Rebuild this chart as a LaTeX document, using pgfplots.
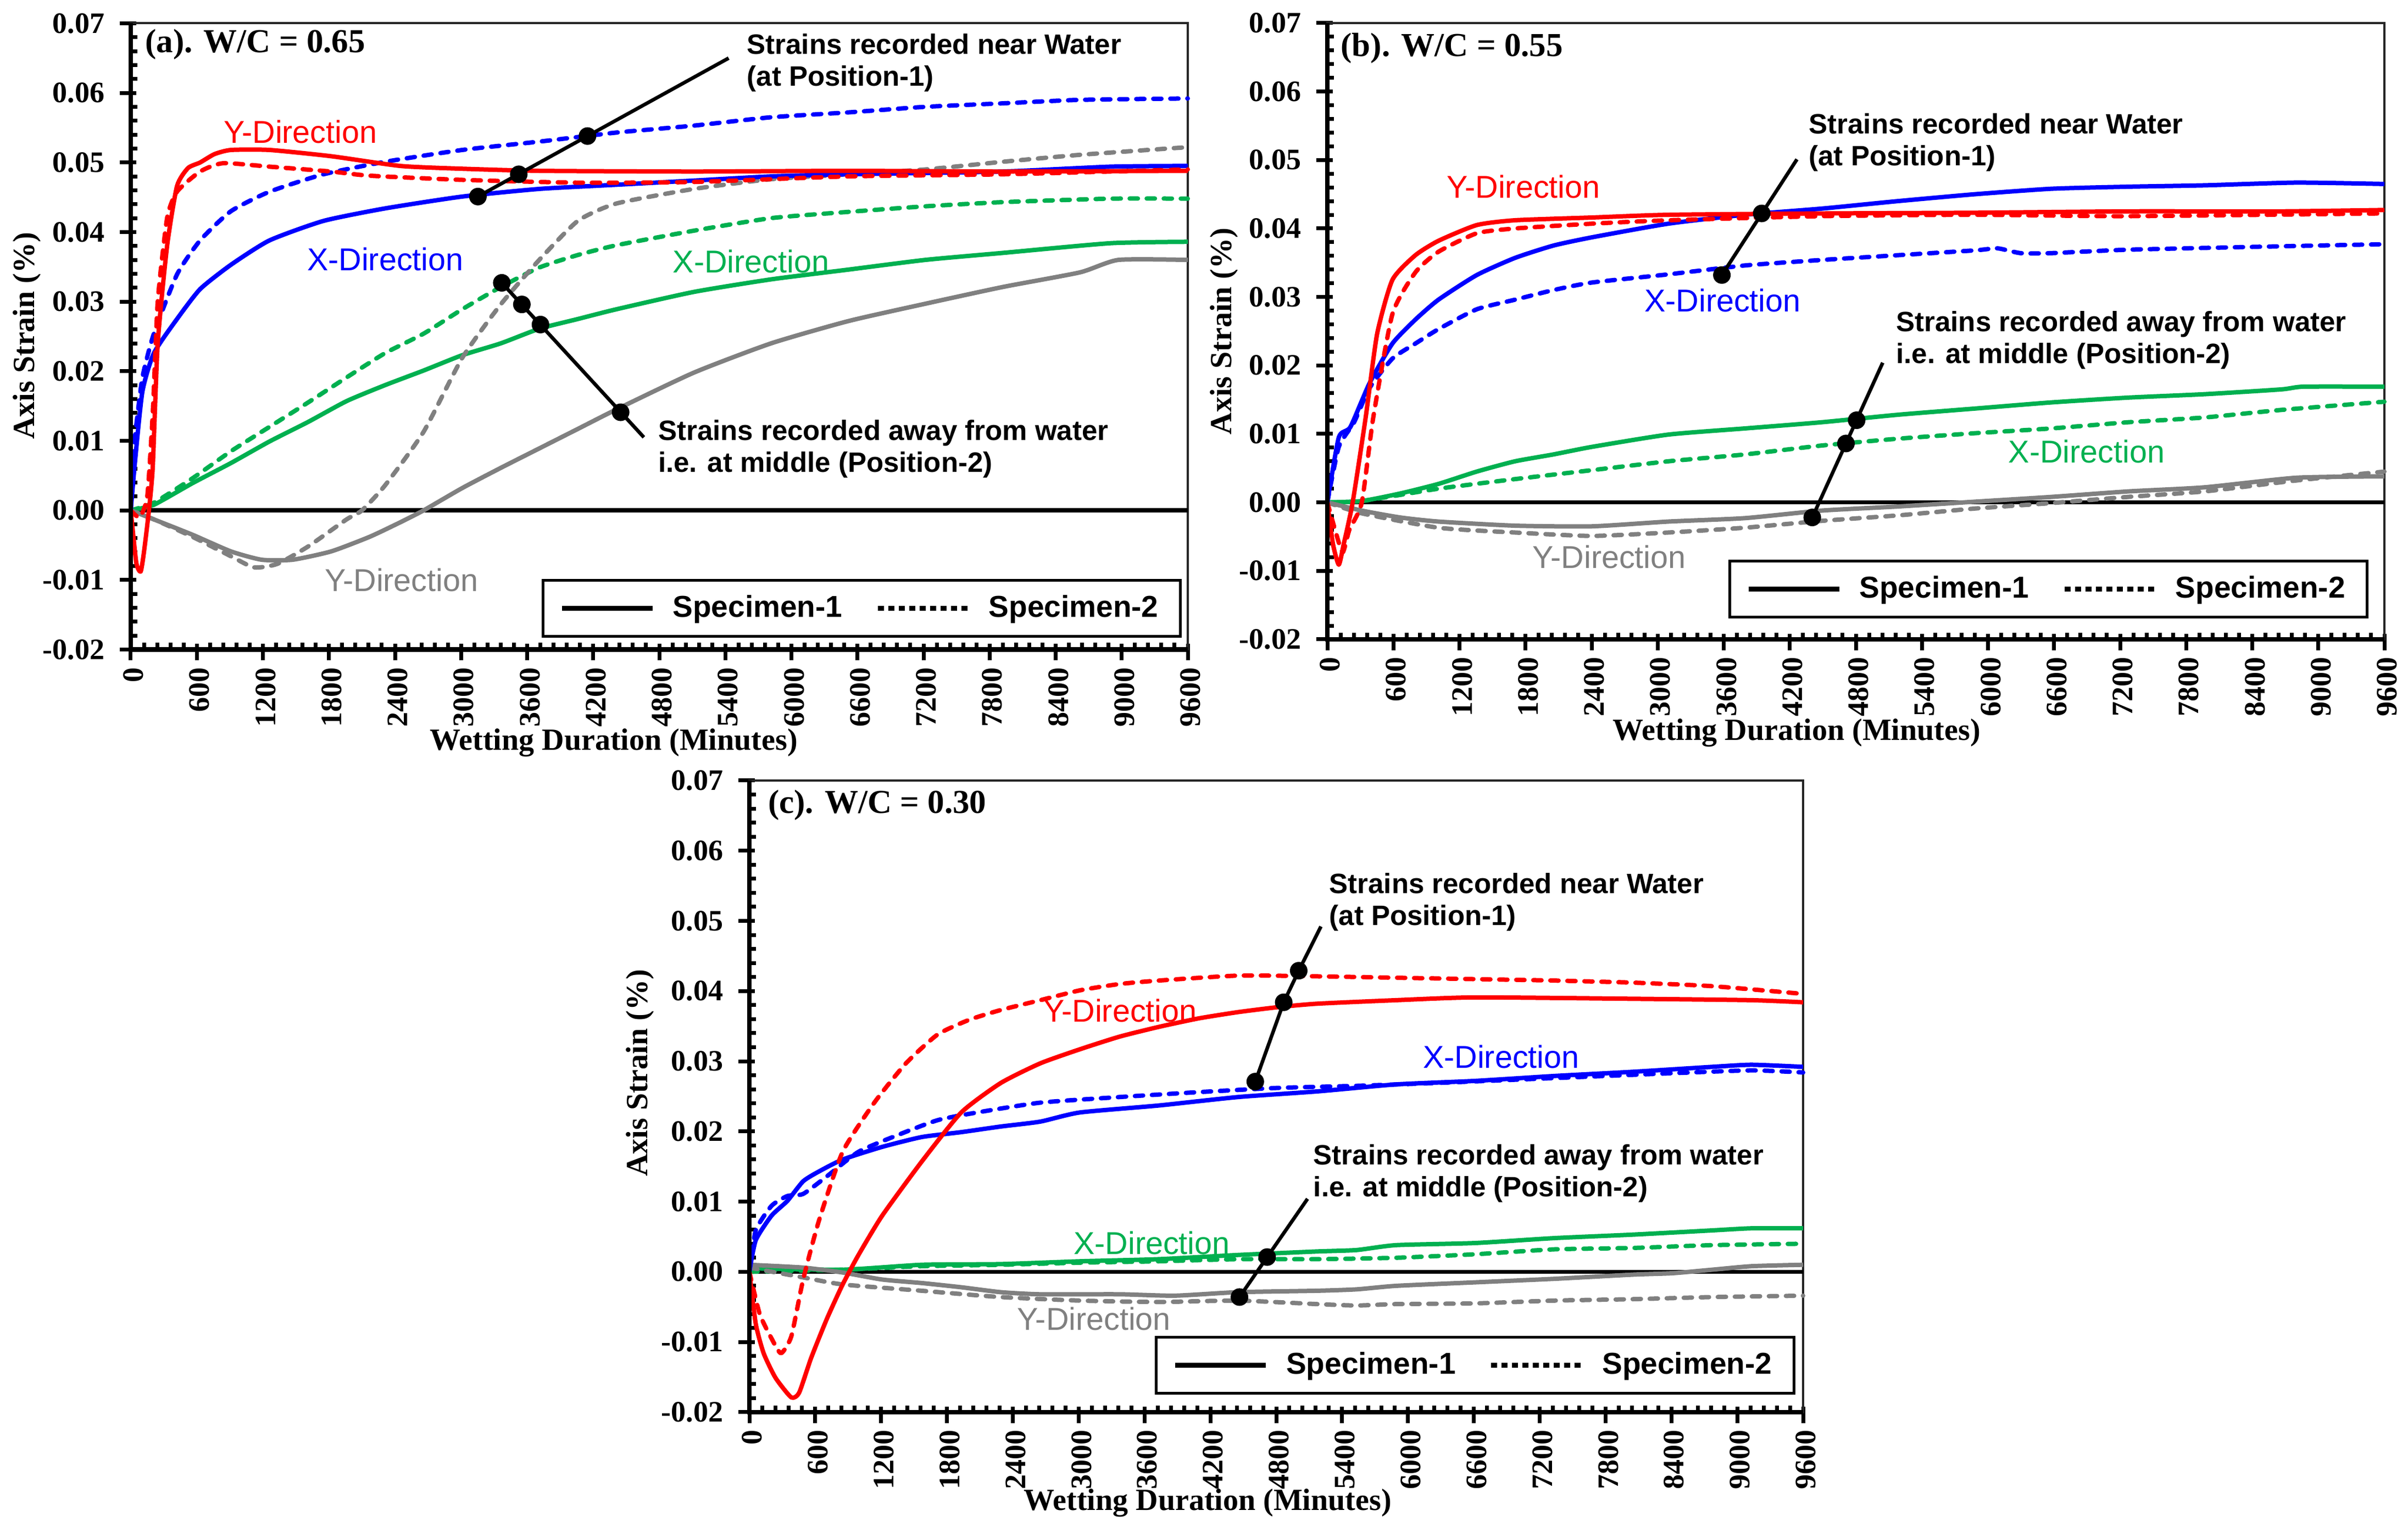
\documentclass[border=0pt]{standalone}
\usepackage{fontspec}
\setmainfont{Liberation Serif}
\newfontfamily\arial{Liberation Sans}
\usepackage{pgfplots}
\pgfplotsset{compat=1.18}
\definecolor{xgreen}{RGB}{0,176,80}
\definecolor{xgrey}{RGB}{128,128,128}
\definecolor{xred}{RGB}{255,0,0}
\definecolor{xblue}{RGB}{0,0,255}
\newcommand\tickfont{\fontsize{10.8}{12}\selectfont\bfseries}
\newcommand\labfont{\fontsize{11.2}{13}\selectfont\bfseries}
\newcommand\panfont{\fontsize{12.2}{14}\selectfont\bfseries}
\newcommand\annfont{\arial\bfseries\fontsize{10.2}{11.6}\selectfont}
\newcommand\dirfont{\arial\fontsize{11.5}{13}\selectfont}
\newcommand\legfont{\arial\bfseries\fontsize{11}{13}\selectfont}
\pgfplotsset{
  panel/.style={
    scale only axis, xmin=0, xmax=9600, ymin=-0.02, ymax=0.07,
    clip=false, scaled x ticks=false, scaled y ticks=false,
    axis line style={draw=black!85, line width=0.8pt},
    xtick={0,600,...,9600},
    ytick={-0.02,-0.01,0,0.01,0.02,0.03,0.04,0.05,0.06,0.07},
    yticklabels={-0.02,-0.01,0.00,0.01,0.02,0.03,0.04,0.05,0.06,0.07},
    xtick pos=bottom, ytick pos=left, tick align=center,
    major tick length=6pt, minor tick length=2.4pt,
    minor x tick num=4, minor y tick num=4,
    tick style={black, line width=1.4pt},
    major x tick style={yshift=-1pt},
    major y tick style={xshift=-1pt},
    minor x tick style={yshift=1.2pt},
    minor y tick style={xshift=1.2pt},
    xticklabel style={rotate=90, anchor=east, font=\tickfont, yshift=-1pt},
    yticklabel style={font=\tickfont, xshift=-3pt},
    legend columns=2,
    legend style={draw=black, line width=1pt, font=\legfont,
      inner xsep=6pt, inner ysep=3.4pt, anchor=south east,
      /tikz/every odd column/.append style={column sep=4.5pt},
      /tikz/every even column/.append style={column sep=10pt}},
    legend image code/.code={\draw[##1] (0pt,0pt) -- (33pt,0pt);},
    /pgf/number format/.cd, 1000 sep={}, assume math mode=true,
  },
  s1/.style={line width=1.6pt, solid, line join=round, smooth, tension=0.35, forget plot},
  s2/.style={line width=1.6pt, dash pattern=on 3pt off 3.2pt, line cap=round, line join=round, smooth, tension=0.35, forget plot},
  ann/.style={black, line width=1.3pt, forget plot},
  dots/.style={black, only marks, mark=*, mark size=3pt, forget plot},
  zero/.style={black, line width=1.5pt, forget plot},
}
\begin{document}
\begin{tikzpicture}
\path[use as bounding box] (0,0) rectangle (876.6pt,556pt);

%% ---------------- Panel (a)
\begin{axis}[panel, at={(47.6pt,319.5pt)}, anchor=south west,
  width=384.8pt, height=228pt,
  legend style={at={(0.9943,0.019)}}]
\addlegendimage{black, line width=1.8pt}
\addlegendentry{Specimen-1}
\addlegendimage{black, line width=1.8pt, dash pattern=on 2.2pt off 1.6pt}
\addlegendentry{Specimen-2}
\addplot[zero] coordinates {(0,0) (9600,0)};
% green
\addplot[xgreen, s1] coordinates {(0,0) (210,0.0008) (560,0.0039) (910,0.0068) (1260,0.0099) (1610,0.0127) (1960,0.0157) (2310,0.018) (2660,0.0201) (3010,0.0223) (3360,0.024) (3710,0.0261) (4060,0.0275) (4410,0.0289) (5115,0.0314) (5815,0.0332) (6516,0.0346) (7217,0.036) (7918,0.037) (8900,0.0384) (9600,0.0386)};
\addplot[xgreen, s2] coordinates {(0,0) (210,0.0011) (560,0.0046) (910,0.0085) (1260,0.012) (1610,0.0155) (1960,0.0191) (2310,0.0226) (2660,0.0254) (3010,0.0289) (3360,0.0321) (3710,0.0349) (4060,0.0367) (4410,0.0381) (5115,0.0402) (5815,0.042) (6516,0.0429) (7217,0.0437) (7918,0.0443) (8900,0.0448) (9600,0.0448)};
% grey
\addplot[xgrey, s1] coordinates {(0,0) (210,-0.0013) (560,-0.0035) (910,-0.0059) (1190,-0.0071) (1470,-0.0071) (1820,-0.0059) (2170,-0.0038) (2450,-0.0017) (2660,0) (3010,0.0032) (3360,0.0061) (3710,0.0089) (4060,0.0117) (4410,0.0145) (5115,0.0198) (5815,0.024) (6516,0.0272) (7217,0.0297) (7918,0.0321) (8619,0.0342) (8970,0.036) (9600,0.036)};
\addplot[xgrey, s2] coordinates {(0,0) (210,-0.0013) (560,-0.0038) (910,-0.0066) (1120,-0.0082) (1330,-0.0077) (1610,-0.0052) (1960,-0.0013) (2100,0) (2310,0.0036) (2660,0.0113) (3010,0.0219) (3360,0.0296) (3710,0.036) (4060,0.0416) (4410,0.0441) (5115,0.0462) (5815,0.0476) (6516,0.0483) (7217,0.049) (7918,0.0501) (8619,0.0511) (9600,0.0522)};
% blue
\addplot[xblue, s1] coordinates {(0,0) (35,0.0064) (105,0.017) (210,0.0226) (420,0.0275) (630,0.0318) (910,0.0353) (1260,0.0388) (1750,0.0416) (2310,0.0434) (3010,0.0451) (3710,0.0462) (4410,0.0468) (5115,0.0474) (5815,0.048) (6516,0.0483) (7918,0.0487) (8900,0.0494) (9600,0.0495)};
\addplot[xblue, s2] coordinates {(0,0) (35,0.0099) (105,0.019) (210,0.0254) (420,0.0339) (630,0.0388) (910,0.043) (1260,0.0458) (1750,0.0483) (2310,0.0501) (3010,0.0518) (3710,0.053) (4410,0.0543) (5115,0.0553) (5815,0.0565) (6516,0.0572) (7217,0.058) (7918,0.0585) (8619,0.059) (9600,0.0592)};
% red
\addplot[xred, s1] coordinates {(0,0) (50,-0.0075) (90,-0.0088) (120,-0.006) (165,0) (200,0.0063) (245,0.024) (330,0.038) (420,0.0466) (520,0.0492) (630,0.050) (760,0.0512) (910,0.0518) (1260,0.0518) (1820,0.0509) (2450,0.0495) (3010,0.0491) (3710,0.0488) (5115,0.0487) (6516,0.0488) (7918,0.0487) (9600,0.0488)};
\addplot[xred, s2] coordinates {(0,0) (80,-0.001) (150,0.002) (200,0.014) (245,0.03) (330,0.042) (420,0.0458) (630,0.0487) (840,0.0499) (1260,0.0494) (1820,0.0487) (2170,0.0481) (3010,0.0475) (4060,0.0471) (5115,0.0472) (6516,0.048) (7918,0.0483) (9600,0.049)};
% annotations
\addplot[ann] coordinates {(3153,0.0451) (5430,0.065)};
\addplot[dots] coordinates {(3153,0.0451) (3524,0.0483) (4148,0.0538)};
\addplot[ann] coordinates {(3370,0.0327) (4660,0.0105)};
\addplot[dots] coordinates {(3370,0.0327) (3552,0.0296) (3721,0.0267) (4449,0.0141)};
\node[anchor=west, align=left, font=\annfont, inner sep=0pt] at (axis cs:5592,0.0643) {Strains recorded near Water\\(at Position-1)};
\node[anchor=west, align=left, font=\annfont, inner sep=0pt] at (axis cs:4786,0.00885) {Strains recorded away from water\\i.e. at middle (Position-2)};
\node[font=\dirfont, text=xred] at (axis cs:1541,0.0544) {Y-Direction};
\node[font=\dirfont, text=xblue] at (axis cs:2312,0.0361) {X-Direction};
\node[font=\dirfont, text=xgreen] at (axis cs:5633,0.0358) {X-Direction};
\node[font=\dirfont, text=xgrey] at (axis cs:2459,-0.010) {Y-Direction};
\node[font=\panfont, anchor=west, inner sep=0pt] at (axis cs:126,0.067) {(a). W/C = 0.65};
\draw[black, line width=1.7pt] (rel axis cs:0,1) -- (rel axis cs:0,0) -- (rel axis cs:1,0);
\node[font=\labfont, yshift=-34pt] at (rel axis cs:0.457,0) {Wetting Duration (Minutes)};
\node[font=\labfont, xshift=-37.8pt, rotate=90] at (rel axis cs:0,0.501) {Axis Strain (\%)};
\end{axis}

%% ---------------- Panel (b)
\begin{axis}[panel, at={(483.2pt,323.2pt)}, anchor=south west,
  width=384.8pt, height=224.4pt,
  legend style={at={(0.985,0.034)}}]
\addlegendimage{black, line width=1.8pt}
\addlegendentry{Specimen-1}
\addlegendimage{black, line width=1.8pt, dash pattern=on 2.2pt off 1.6pt}
\addlegendentry{Specimen-2}
\addplot[zero] coordinates {(0,0) (9600,0)};
\addplot[xgreen, s1] coordinates {(0,0) (313,0.0002) (661,0.0013) (1009,0.0027) (1357,0.0045) (1704,0.006) (2052,0.007) (2400,0.0081) (3096,0.0099) (3792,0.0108) (4487,0.0117) (5183,0.0128) (5879,0.0137) (6575,0.0146) (7270,0.0153) (7966,0.0158) (8662,0.0165) (8870,0.0169) (9600,0.0169)};
\addplot[xgreen, s2] coordinates {(0,0) (313,0.0002) (1009,0.002) (1704,0.0034) (2400,0.0047) (3096,0.006) (3792,0.007) (4487,0.0083) (5183,0.0093) (5879,0.0101) (6575,0.0108) (7270,0.0117) (7966,0.0124) (8662,0.0135) (9600,0.0147)};
\addplot[xgrey, s1] coordinates {(0,0) (313,-0.0012) (661,-0.0022) (1009,-0.0028) (1704,-0.0034) (2400,-0.0035) (3096,-0.0028) (3792,-0.0023) (4487,-0.0012) (5183,-0.0006) (5879,0.0001) (6575,0.0008) (7270,0.0016) (7966,0.0022) (8800,0.0036) (9600,0.0038)};
\addplot[xgrey, s2] coordinates {(0,0) (313,-0.0016) (1009,-0.0037) (1704,-0.0044) (2400,-0.0049) (3096,-0.0044) (3792,-0.0037) (4487,-0.0027) (5183,-0.0019) (5879,-0.0009) (6575,-0.0001) (7270,0.0008) (7966,0.0016) (8800,0.0032) (9600,0.0045)};
\addplot[xblue, s1] coordinates {(0,0) (104,0.0095) (209,0.011) (383,0.0174) (591,0.0232) (800,0.0267) (1009,0.0296) (1357,0.0332) (1704,0.0357) (2052,0.0375) (2400,0.0387) (3096,0.0407) (3792,0.042) (4487,0.0429) (5183,0.044) (5879,0.045) (6575,0.0458) (7270,0.0461) (7966,0.0463) (8800,0.0467) (9600,0.0465)};
\addplot[xblue, s2] coordinates {(0,0) (104,0.0081) (243,0.0117) (383,0.0167) (591,0.021) (800,0.0232) (1009,0.0253) (1357,0.0282) (1704,0.0296) (2052,0.031) (2400,0.0321) (3096,0.0333) (3792,0.0346) (4487,0.0354) (5183,0.0361) (5879,0.0368) (6087,0.0371) (6296,0.0364) (6575,0.0364) (7270,0.0369) (8662,0.0374) (9600,0.0377)};
\addplot[xred, s1] coordinates {(0,0) (50,-0.006) (104,-0.0091) (150,-0.006) (230,0) (348,0.0124) (452,0.0246) (591,0.0325) (800,0.0361) (1009,0.0382) (1357,0.0405) (1704,0.0412) (2400,0.0416) (3096,0.042) (4487,0.0422) (5879,0.0423) (7270,0.0425) (8662,0.0425) (9600,0.0427)};
\addplot[xred, s2] coordinates {(0,0) (70,-0.004) (139,-0.0073) (200,-0.004) (313,0) (417,0.0124) (591,0.0275) (800,0.0336) (1009,0.0366) (1357,0.0393) (1704,0.04) (2400,0.0407) (3096,0.0412) (4487,0.0418) (5879,0.042) (7270,0.0418) (9600,0.0422)};
\addplot[ann] coordinates {(3583,0.0332) (4265,0.0501)};
\addplot[dots] coordinates {(3583,0.0332) (3945,0.0422)};
\addplot[ann] coordinates {(4404,-0.0022) (5044,0.0204)};
\addplot[dots] coordinates {(4404,-0.0022) (4710,0.0086) (4807,0.012)};
\node[anchor=west, align=left, font=\annfont, inner sep=0pt] at (axis cs:4369,0.05255) {Strains recorded near Water\\(at Position-1)};
\node[anchor=west, align=left, font=\annfont, inner sep=0pt] at (axis cs:5162,0.02365) {Strains recorded away from water\\i.e. at middle (Position-2)};
\node[font=\dirfont, text=xred] at (axis cs:1781,0.0461) {Y-Direction};
\node[font=\dirfont, text=xblue] at (axis cs:3590,0.0295) {X-Direction};
\node[font=\dirfont, text=xgreen] at (axis cs:6895,0.0074) {X-Direction};
\node[font=\dirfont, text=xgrey] at (axis cs:2560,-0.008) {Y-Direction};
\node[font=\panfont, anchor=west, inner sep=0pt] at (axis cs:118,0.0663) {(b). W/C = 0.55};
\draw[black, line width=1.7pt] (rel axis cs:0,1) -- (rel axis cs:0,0) -- (rel axis cs:1,0);
\node[font=\labfont, yshift=-34pt] at (rel axis cs:0.444,0) {Wetting Duration (Minutes)};
\node[font=\labfont, xshift=-37.6pt, rotate=90] at (rel axis cs:0,0.5) {Axis Strain (\%)};
\end{axis}

%% ---------------- Panel (c)
\begin{axis}[panel, at={(272.8pt,41.8pt)}, anchor=south west,
  width=383.6pt, height=230pt,
  legend style={at={(0.9925,0.028)}}]
\addlegendimage{black, line width=1.8pt}
\addlegendentry{Specimen-1}
\addlegendimage{black, line width=1.8pt, dash pattern=on 2.2pt off 1.6pt}
\addlegendentry{Specimen-2}
\addplot[zero] coordinates {(0,0) (9600,0)};
\addplot[xgreen, s1] coordinates {(0,0.0005) (850,0.0003) (1570,0.001) (2290,0.0011) (3010,0.0015) (3731,0.0018) (4451,0.0024) (5171,0.0029) (5531,0.0031) (5891,0.0038) (6611,0.0041) (7331,0.0048) (8051,0.0053) (8771,0.0059) (9131,0.0062) (9600,0.0062)};
\addplot[xgreen, s2] coordinates {(0,0) (850,0.0003) (1570,0.0008) (2290,0.001) (3010,0.0013) (3731,0.0015) (4451,0.0018) (5171,0.0018) (5891,0.002) (6611,0.0025) (7331,0.0032) (8051,0.0034) (8771,0.0038) (9600,0.004)};
\addplot[xgrey, s1] coordinates {(0,0.001) (490,0.0006) (850,-0.0001) (1210,-0.0011) (1570,-0.0016) (1930,-0.0022) (2290,-0.0029) (2650,-0.0032) (3371,-0.0032) (3875,-0.0034) (4451,-0.0029) (5171,-0.0027) (5531,-0.0025) (5891,-0.002) (6611,-0.0015) (7331,-0.001) (8051,-0.0004) (8411,-0.0002) (8771,0.0003) (9131,0.0008) (9600,0.001)};
\addplot[xgrey, s2] coordinates {(0,0.0006) (490,-0.0008) (850,-0.0018) (1570,-0.0027) (2290,-0.0036) (3010,-0.0041) (3731,-0.0043) (4451,-0.0041) (5171,-0.0046) (5531,-0.0048) (5891,-0.0046) (6611,-0.0045) (7331,-0.0041) (8051,-0.0039) (8771,-0.0036) (9600,-0.0034)};
\addplot[xblue, s1] coordinates {(0,0) (58,0.0045) (202,0.008) (346,0.0101) (490,0.0129) (634,0.0143) (850,0.016) (1210,0.0178) (1570,0.0192) (1930,0.0199) (2290,0.0207) (2650,0.0214) (3010,0.0227) (3731,0.0237) (4451,0.0249) (5171,0.0257) (5891,0.0267) (6611,0.0272) (7331,0.0279) (8051,0.0285) (8771,0.0292) (9131,0.0295) (9600,0.0292)};
\addplot[xblue, s2] coordinates {(0,0) (58,0.0059) (202,0.0094) (346,0.0108) (490,0.0111) (706,0.0136) (994,0.0171) (1354,0.0195) (1714,0.0216) (2074,0.0227) (2650,0.0241) (3371,0.0249) (4091,0.0256) (4811,0.0262) (5531,0.0265) (6251,0.0269) (7331,0.0276) (8411,0.0283) (9131,0.0287) (9600,0.0284)};
\addplot[xred, s1] coordinates {(0,0) (58,-0.0074) (130,-0.0116) (238,-0.0151) (382,-0.0179) (454,-0.0172) (562,-0.0123) (706,-0.0067) (850,-0.0018) (994,0.0024) (1210,0.008) (1570,0.0157) (1930,0.0227) (2290,0.0269) (2650,0.0297) (3010,0.0317) (3371,0.0335) (3731,0.0349) (4091,0.0361) (4451,0.037) (4811,0.0377) (5171,0.0382) (5891,0.0387) (6611,0.0391) (8051,0.0389) (9131,0.0387) (9600,0.0384)};
\addplot[xred, s2] coordinates {(0,0) (94,-0.006) (202,-0.0095) (288,-0.0116) (382,-0.0092) (490,-0.0011) (634,0.0073) (850,0.0171) (1138,0.0241) (1426,0.0297) (1714,0.0338) (2002,0.0359) (2290,0.0373) (2650,0.0387) (3010,0.0401) (3371,0.041) (3731,0.0415) (4451,0.0422) (5171,0.0421) (5891,0.0419) (6611,0.0417) (7331,0.0415) (8051,0.0412) (8771,0.0407) (9600,0.0396)};
\addplot[ann] coordinates {(4609,0.0271) (4868,0.0384) (5005,0.0429) (5207,0.0492)};
\addplot[dots] coordinates {(4609,0.0271) (4868,0.0384) (5005,0.0429)};
\addplot[ann] coordinates {(4465,-0.0036) (5085,0.0104)};
\addplot[dots] coordinates {(4465,-0.0036) (4717,0.0021)};
\node[anchor=west, align=left, font=\annfont, inner sep=0pt] at (axis cs:5279,0.0527) {Strains recorded near Water\\(at Position-1)};
\node[anchor=west, align=left, font=\annfont, inner sep=0pt] at (axis cs:5135,0.01405) {Strains recorded away from water\\i.e. at middle (Position-2)};
\node[font=\dirfont, text=xred] at (axis cs:3378,0.0372) {Y-Direction};
\node[font=\dirfont, text=xblue] at (axis cs:6849,0.0306) {X-Direction};
\node[font=\dirfont, text=xgreen] at (axis cs:3666,0.0041) {X-Direction};
\node[font=\dirfont, text=xgrey] at (axis cs:3140,-0.0067) {Y-Direction};
\node[font=\panfont, anchor=west, inner sep=0pt] at (axis cs:166,0.0665) {(c). W/C = 0.30};
\draw[black, line width=1.7pt] (rel axis cs:0,1) -- (rel axis cs:0,0) -- (rel axis cs:1,0);
\node[font=\labfont, yshift=-33pt] at (rel axis cs:0.435,0) {Wetting Duration (Minutes)};
\node[font=\labfont, xshift=-39.8pt, rotate=90] at (rel axis cs:0,0.537) {Axis Strain (\%)};
\end{axis}
\end{tikzpicture}
\end{document}
